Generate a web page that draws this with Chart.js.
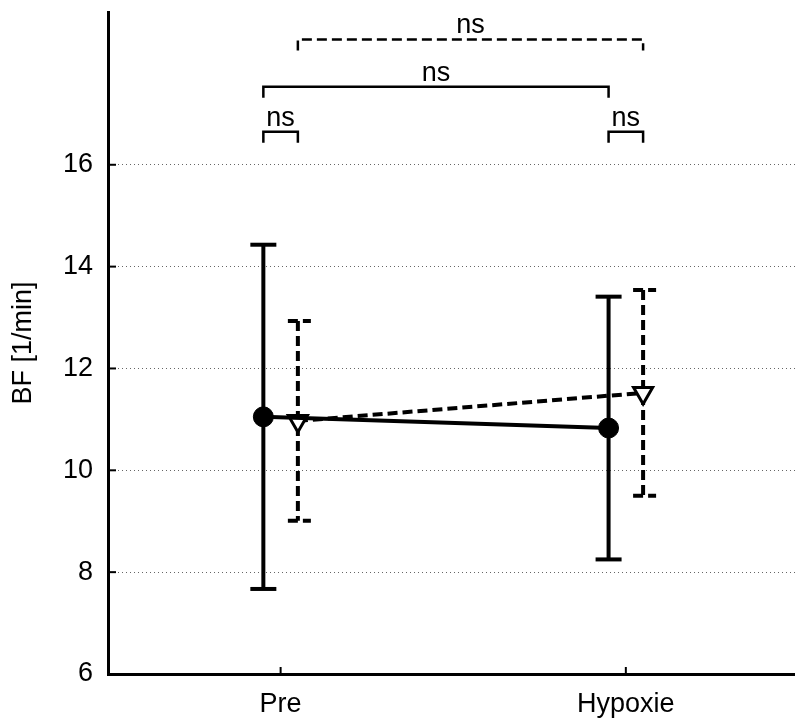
<!DOCTYPE html>
<html>
<head>
<meta charset="utf-8">
<script src="https://cdn.jsdelivr.net/npm/chart.js@4.4.1/dist/chart.umd.min.js"></script>
<style>
  html, body { margin: 0; padding: 0; background: #fff; overflow: hidden; }
  canvas { display: block; }
</style>
</head>
<body>
<canvas id="chart" width="795" height="721"></canvas>
<script>
// Daten
const categories = ['Pre', 'Hypoxie'];
const categoryPos = [1, 2];
const seriesOffset = [-0.05, 0.05];
const solidMean = [11.05, 10.83];
const solidErr = [3.38, 2.58];
const dashedMean = [10.97, 11.52];
const dashedErr = [1.96, 2.02];
const yTickValues = [6, 8, 10, 12, 14, 16];

// Signifikanz-Klammern
const bracketFrom = [0.95, 1.95, 0.95, 1.05];
const bracketTo = [1.05, 2.05, 1.95, 2.05];
const bracketY = [16.65, 16.65, 17.53, 18.46];
const bracketLabels = ['ns', 'ns', 'ns', 'ns'];
const bracketDashed = [false, false, false, true];

const FONT = '"Liberation Sans", Arial, sans-serif';
const DASH = [10, 5];

function toPoints(means, offset) {
    return means.map((m, i) => ({ x: categoryPos[i] + offset, y: m }));
}

const errors = [solidErr, dashedErr];

// Fehlerbalken vor den Punkten zeichnen
const errorBarPlugin = {
    id: 'errorBars',
    beforeDatasetsDraw(chart) {
        const ctx = chart.ctx;
        const xs = chart.scales.x, ys = chart.scales.y;
        chart.data.datasets.forEach((ds, di) => {
            ctx.save();
            ctx.strokeStyle = '#000';
            ctx.lineWidth = 4;
            ctx.lineCap = 'butt';
            ctx.setLineDash(di === 1 ? DASH : []);
            ds.data.forEach((p, i) => {
                const e = errors[di][i];
                const px = xs.getPixelForValue(p.x);
                const yTop = ys.getPixelForValue(p.y + e);
                const yBot = ys.getPixelForValue(p.y - e);
                ctx.beginPath();
                ctx.moveTo(px, yTop);
                ctx.lineTo(px, yBot);
                ctx.stroke();
                ctx.lineDashOffset = di === 1 ? 12 : 0;
                [yTop, yBot].forEach(y => {
                    ctx.beginPath();
                    ctx.moveTo(px - 13, y);
                    ctx.lineTo(px + 13, y);
                    ctx.stroke();
                });
                ctx.lineDashOffset = 0;
            });
            ctx.restore();
        });
    }
};

// Achsenstriche nach innen + Klammern
const decorPlugin = {
    id: 'decor',
    afterDraw(chart) {
        const ctx = chart.ctx;
        const xs = chart.scales.x, ys = chart.scales.y;
        const area = chart.chartArea;
        ctx.save();
        ctx.strokeStyle = '#000';
        ctx.lineWidth = 2;
        yTickValues.forEach(v => {
            const y = ys.getPixelForValue(v);
            ctx.beginPath();
            ctx.moveTo(area.left, y);
            ctx.lineTo(area.left + 8, y);
            ctx.stroke();
        });
        categoryPos.forEach(v => {
            const x = xs.getPixelForValue(v);
            ctx.beginPath();
            ctx.moveTo(x, area.bottom);
            ctx.lineTo(x, area.bottom - 7);
            ctx.stroke();
        });

        ctx.font = '27px ' + FONT;
        ctx.fillStyle = '#000';
        ctx.textAlign = 'center';
        ctx.textBaseline = 'alphabetic';
        bracketFrom.forEach((from, i) => {
            const x1 = xs.getPixelForValue(from);
            const x2 = xs.getPixelForValue(bracketTo[i]);
            const y = ys.getPixelForValue(bracketY[i]);
            ctx.setLineDash(bracketDashed[i] ? DASH : []);
            ctx.lineWidth = 2.5;
            ctx.beginPath();
            ctx.moveTo(x1, y + 11);
            ctx.lineTo(x1, y);
            ctx.lineTo(x2, y);
            ctx.lineTo(x2, y + 11);
            ctx.stroke();
            ctx.setLineDash([]);
            ctx.fillText(bracketLabels[i], (x1 + x2) / 2, y - 6);
        });
        ctx.restore();
    }
};

const chart = new Chart(document.getElementById('chart'), {
    type: 'line',
    data: {
        datasets: [
            {
                data: toPoints(solidMean, seriesOffset[0]),
                borderColor: '#000',
                borderWidth: 4,
                pointStyle: 'circle',
                pointRadius: 10,
                pointBackgroundColor: '#000',
                pointBorderColor: '#000',
                pointBorderWidth: 1,
                clip: false
            },
            {
                data: toPoints(dashedMean, seriesOffset[1]),
                borderColor: '#000',
                borderWidth: 4,
                borderDash: DASH,
                pointStyle: 'triangle',
                rotation: 180,
                pointRadius: 11,
                pointBackgroundColor: '#fff',
                pointBorderColor: '#000',
                pointBorderWidth: 3,
                clip: false
            }
        ]
    },
    options: {
        responsive: false,
        animation: false,
        layout: { autoPadding: false, padding: { top: 12, right: 0, left: 0, bottom: 0 } },
        plugins: {
            legend: { display: false },
            tooltip: { enabled: false }
        },
        scales: {
            x: {
                type: 'linear',
                min: 0.5,
                max: 2.49,
                afterFit: s => { s.height = 47; s.paddingLeft = 0; s.paddingRight = 0; },
                afterBuildTicks: s => { s.ticks = categoryPos.map(v => ({ value: v })); },
                grid: { display: false, drawTicks: false },
                border: { color: '#000', width: 3 },
                ticks: {
                    padding: 14,
                    color: '#000',
                    font: { family: FONT, size: 27 },
                    callback: v => categories[categoryPos.indexOf(v)]
                }
            },
            y: {
                min: 6,
                max: 19,
                afterFit: s => { s.width = 108; s.paddingTop = 0; s.paddingBottom = 0; },
                afterBuildTicks: s => { s.ticks = yTickValues.map(v => ({ value: v })); },
                grid: { color: '#666', lineWidth: 1, drawTicks: false },
                border: { color: '#000', width: 3, dash: [1, 3] },
                ticks: {
                    padding: 15,
                    color: '#000',
                    font: { family: FONT, size: 27 }
                },
                title: {
                    display: true,
                    text: 'BF [1/min]',
                    color: '#000',
                    font: { family: FONT, size: 27, lineHeight: 1 },
                    padding: { top: 10, bottom: 0 }
                }
            }
        }
    },
    plugins: [errorBarPlugin, decorPlugin]
});
</script>
</body>
</html>
